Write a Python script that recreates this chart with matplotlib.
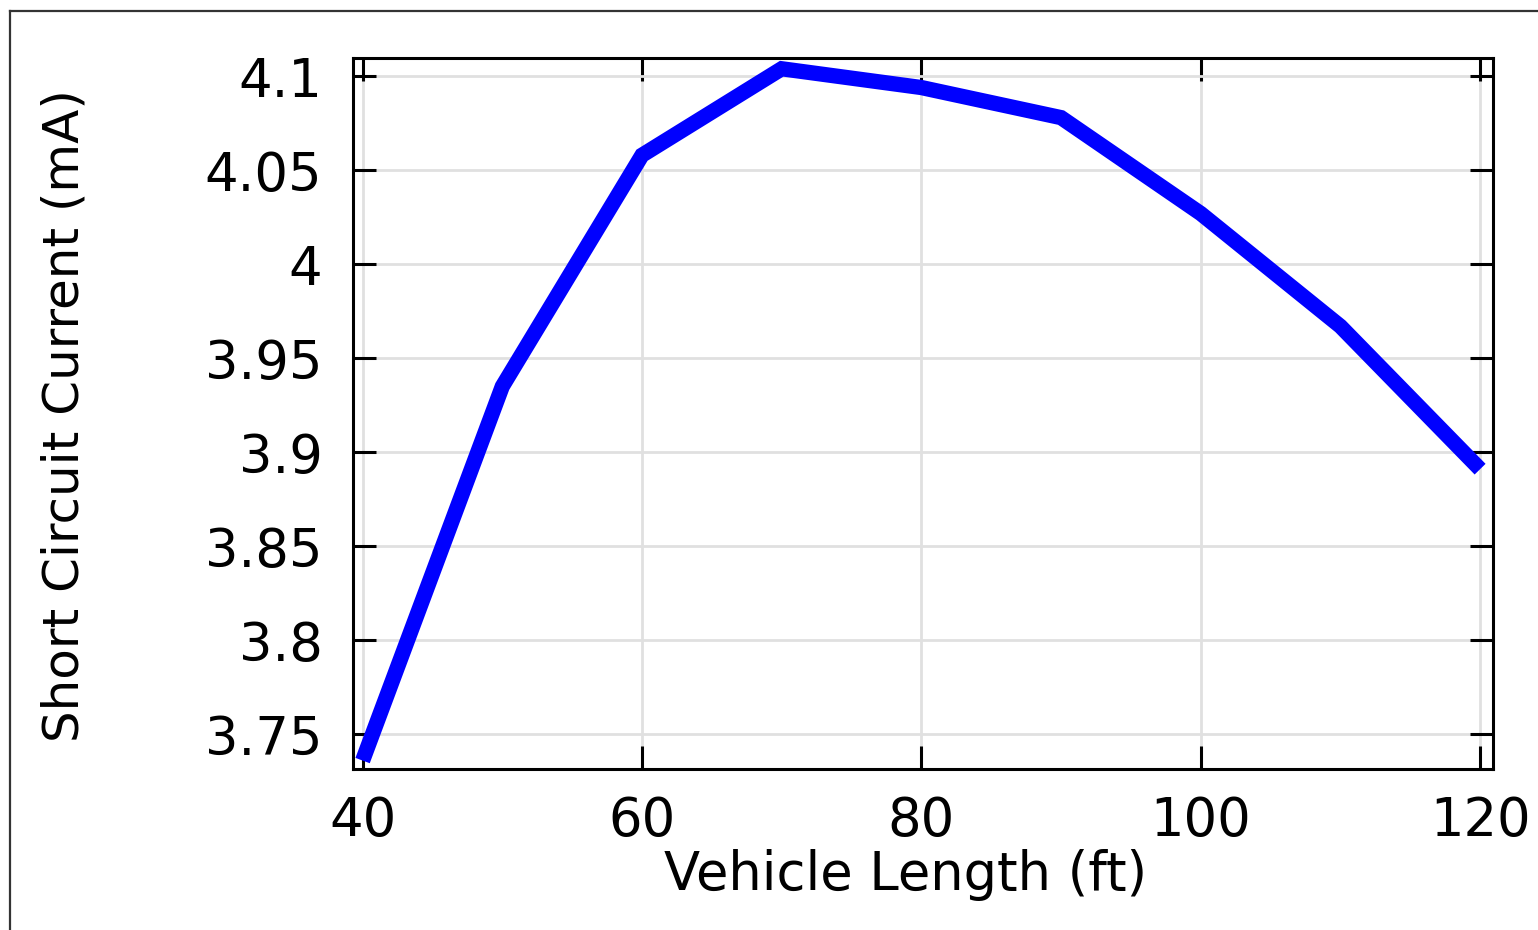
import matplotlib
matplotlib.use("Agg")
import matplotlib.pyplot as plt
from matplotlib.lines import Line2D

# values
vehicle_length = [40, 50, 60, 70, 80, 90, 100, 110, 120]
short_current = [3.736, 3.935, 4.058, 4.104, 4.094, 4.078, 4.027, 3.967, 3.891]

x_ticks = [40, 60, 80, 100, 120]
y_ticks = [3.75, 3.8, 3.85, 3.9, 3.95, 4.0, 4.05, 4.1]
y_tick_labels = ["3.75", "3.8", "3.85", "3.9", "3.95", "4", "4.05", "4.1"]

plt.rcParams['font.family'] = ['DejaVu Sans']

fig = plt.figure(figsize=(15.38, 9.30), dpi=100)
ax = fig.add_axes([0.2295, 0.1731, 0.9708 - 0.2295, 0.9376 - 0.1731])

# thin frame around the whole picture (only top and left show)
fig.add_artist(Line2D([10 / 1538, 1.0], [1 - 11 / 930, 1 - 11 / 930],
                      transform=fig.transFigure, color='#333333', lw=1.6))
fig.add_artist(Line2D([10 / 1538, 10 / 1538], [0.0, 1 - 11 / 930],
                      transform=fig.transFigure, color='#333333', lw=1.6))

ax.plot(vehicle_length, short_current, color=(0, 0, 1), lw=11,
        solid_joinstyle='miter', solid_capstyle='butt', zorder=3)

ax.set_xlim(39.31, 120.93)
ax.set_ylim(3.7315, 4.1097)
ax.set_xticks(x_ticks)
ax.set_yticks(y_ticks)
ax.set_yticklabels(y_tick_labels)

ax.grid(True, color='#e0e0e0', lw=2.0, zorder=0)
ax.set_axisbelow(True)

for s in ax.spines.values():
    s.set_linewidth(2.2)

ax.tick_params(axis='both', direction='in', length=16.5, width=2.2,
               top=True, right=True, labelsize=38)
ax.tick_params(axis='y', pad=22)
ax.tick_params(axis='x', pad=19)

ax.set_xlabel("Vehicle Length (ft)", fontsize=38)
ax.set_ylabel("Short Circuit Current (mA)", fontsize=36)
ax.xaxis.set_label_coords(0.485, -0.112)
ax.yaxis.set_label_coords(-0.232, 0.497)

plt.savefig("out.png", dpi=100)
